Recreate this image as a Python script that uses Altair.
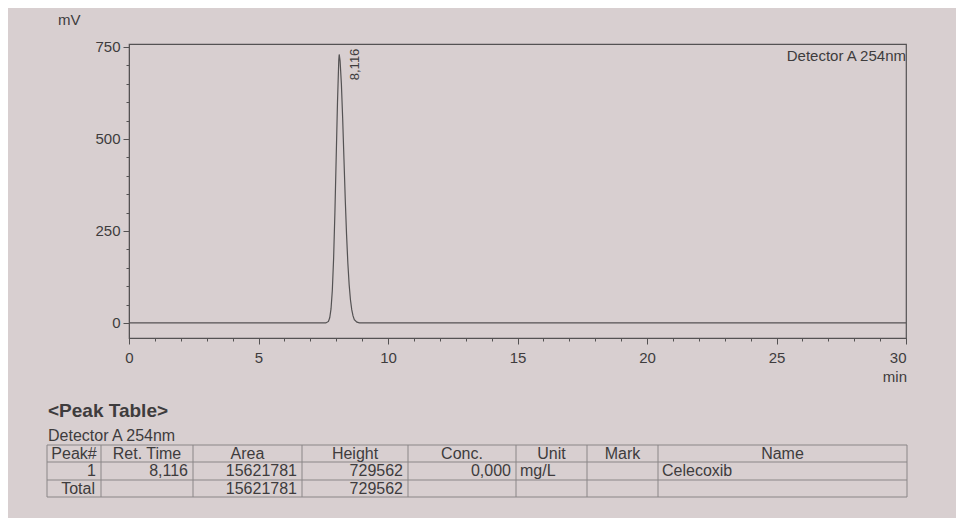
import altair as alt
import pandas as pd

# ---- chromatogram trace (time in min, signal in mV) ----
time_min = [0.0, 7.60, 7.70, 7.75, 7.80, 7.85, 7.90, 7.95, 8.00, 8.05, 8.10, 8.116,
            8.15, 8.20, 8.25, 8.30, 8.35, 8.40, 8.45, 8.50, 8.55, 8.60, 8.65, 8.70,
            8.80, 8.90, 30.0]
signal_mv = [0, 0, 4, 14, 38, 88, 175, 300, 450, 600, 715, 729.6,
             712, 650, 555, 445, 335, 240, 162, 104, 63, 36, 19, 9,
             2, 0, 0]

# ---- peak annotation ----
peak_rt = [8.116]
peak_height = [729.6]
peak_label = ["8,116"]

# ---- peak table ----
table_header = ["Peak#", "Ret. Time", "Area", "Height", "Conc.", "Unit", "Mark", "Name"]
row_peak1 = ["1", "8,116", "15621781", "729562", "0,000", "mg/L", "", "Celecoxib"]
row_total = ["Total", "", "15621781", "729562", "", "", "", ""]

# ---- axis tick values ----
x_ticks = list(range(0, 31))
y_ticks = list(range(0, 751, 50))

# ---- layout (pixels, relative to plot origin) ----
W, H = 777, 294
col_edges = [-82, -28, 64, 173, 279, 387, 458, 529, 778]
row_lines = [401, 418, 436, 453]
row_centers = [409.5, 427, 444.5]
right_cols = [0, 1, 2, 3, 4]

INK = "#3e3c3d"
LINE = "#545253"
FONT = "Liberation Sans"

trace = pd.DataFrame({"t": time_min, "mv": signal_mv})
peak = pd.DataFrame({"t": peak_rt, "mv": peak_height, "lab": peak_label})

xscale = alt.Scale(domain=[0, 30], nice=False, zero=False)
yscale = alt.Scale(domain=[-41, 758], nice=False, zero=False)

x_axis = alt.Axis(
    title=None, values=x_ticks, grid=False, labelOverlap=False,
    labelExpr="datum.value % 5 === 0 ? datum.label : ''",
    tickSize={"condition": {"test": "datum.value % 5 === 0", "value": 6}, "value": 3},
    labelAlign={"condition": {"test": "datum.value === 30", "value": "right"}, "value": "center"},
    labelFlush=False, labelPadding=6,
)
y_axis = alt.Axis(
    title=None, values=y_ticks, grid=False, labelOverlap=False,
    labelExpr="datum.value % 250 === 0 ? datum.label : ''",
    tickSize={"condition": {"test": "datum.value % 250 === 0", "value": 6}, "value": 3},
    labelPadding=3,
)

line = alt.Chart(trace).mark_line(color=LINE, strokeWidth=1.2).encode(
    x=alt.X("t:Q", scale=xscale, axis=x_axis),
    y=alt.Y("mv:Q", scale=yscale, axis=y_axis),
)

plabel = alt.Chart(peak).mark_text(
    angle=270, align="center", baseline="middle", dy=16, dx=-10,
    font=FONT, fontSize=13, color=INK,
).encode(
    x=alt.X("t:Q", scale=xscale, axis=x_axis),
    y=alt.Y("mv:Q", scale=yscale, axis=y_axis),
    text="lab:N",
)


def label(txt, x, y, align="left", size=15, weight="normal"):
    return alt.Chart(pd.DataFrame({"s": [txt]})).mark_text(
        align=align, baseline="middle", font=FONT, fontSize=size,
        fontWeight=weight, color=INK,
    ).encode(x=alt.value(x), y=alt.value(y), text="s:N")


mv_lab = label("mV", -71, -24, size=15)
det_lab = label("Detector A 254nm", 777, 12, align="right", size=15)
min_lab = label("min", 778, 333, align="right", size=15)
pt_title = label("<Peak Table>", -81, 367, size=19, weight="bold")
pt_det = label("Detector A 254nm", -81, 392, size=16)

# table grid
segs = []
for yy in row_lines:
    segs.append({"x": col_edges[0], "x2": col_edges[-1], "y": yy, "y2": yy})
for xx in col_edges:
    segs.append({"x": xx, "x2": xx, "y": row_lines[0], "y2": row_lines[-1]})
grid = alt.Chart(pd.DataFrame(segs)).mark_rule(color="#8a8687", strokeWidth=1).encode(
    x=alt.X("x:Q", scale=None, axis=None), x2="x2:Q",
    y=alt.Y("y:Q", scale=None, axis=None), y2="y2:Q",
)

hdr = pd.DataFrame({
    "s": table_header,
    "x": [(col_edges[i] + col_edges[i + 1]) / 2 for i in range(8)],
    "y": [row_centers[0]] * 8,
})
rcells, lcells = [], []
for r, row in enumerate([row_peak1, row_total]):
    for i, s in enumerate(row):
        if not s:
            continue
        if r == 1 and i == 0:
            rcells.append({"s": s, "x": col_edges[1] - 6, "y": row_centers[r + 1]})
        elif i in right_cols:
            rcells.append({"s": s, "x": col_edges[i + 1] - 5, "y": row_centers[r + 1]})
        else:
            lcells.append({"s": s, "x": col_edges[i] + 4, "y": row_centers[r + 1]})


def cells(df, align):
    return alt.Chart(df).mark_text(
        align=align, baseline="middle", font=FONT, fontSize=16, color=INK,
    ).encode(
        x=alt.X("x:Q", scale=None, axis=None),
        y=alt.Y("y:Q", scale=None, axis=None),
        text="s:N",
    )


chart = alt.layer(
    line, plabel, mv_lab, det_lab, min_lab, pt_title, pt_det, grid,
    cells(hdr, "center"), cells(pd.DataFrame(rcells), "right"), cells(pd.DataFrame(lcells), "left"),
).properties(
    width=W, height=H, autosize="none",
    padding={"left": 121, "top": 36, "right": 50, "bottom": 180},
).configure(background="#d8cfd0").configure_view(
    stroke=LINE, strokeWidth=1.2,
).configure_axis(
    domainColor=LINE, tickColor=LINE, labelColor=INK, labelFont=FONT, labelFontSize=15,
    labelOverlap=False,
)

chart.save("out.html", embed_options={"renderer": "svg", "actions": False})
